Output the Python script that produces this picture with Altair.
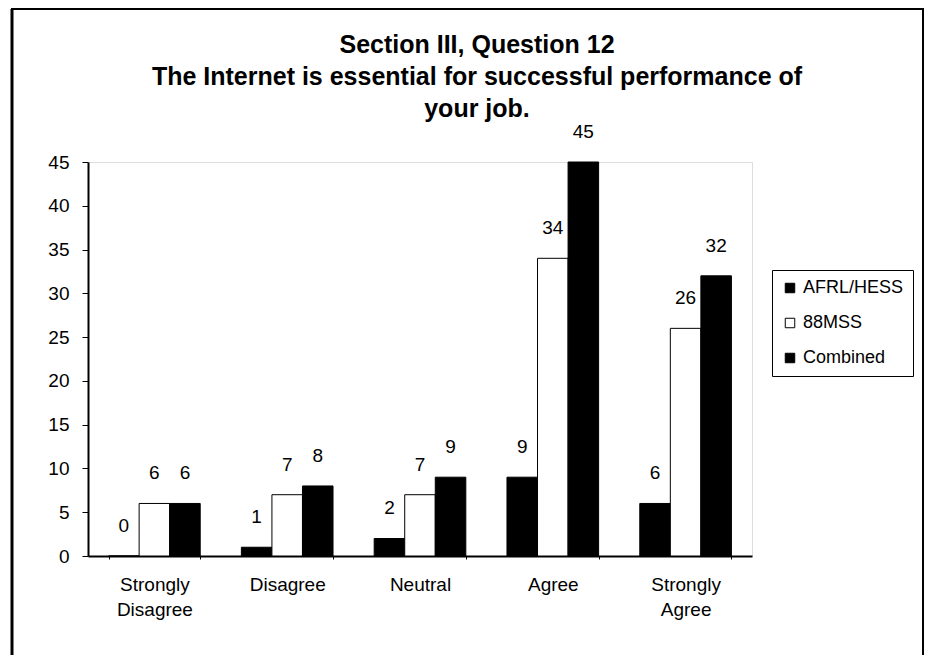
import altair as alt
import pandas as pd

categories = ["Strongly Disagree", "Disagree", "Neutral", "Agree", "Strongly Agree"]
series = ["AFRL/HESS", "88MSS", "Combined"]
afrl_hess = [0, 1, 2, 9, 6]
mss88 = [6, 7, 7, 34, 26]
combined = [6, 8, 9, 45, 32]
y_ticks = [0, 5, 10, 15, 20, 25, 30, 35, 40, 45]
title_lines = ["Section III, Question 12",
               "The Internet is essential for successful performance of",
               "your job."]

rows = []
for s, vals in zip(series, [afrl_hess, mss88, combined]):
    for c, v in zip(categories, vals):
        rows.append({"category": c, "series": s, "value": v})
df = pd.DataFrame(rows)

FONT = "Liberation Sans"
FS = 19

x_enc = alt.X("category:N", sort=categories,
              scale=alt.Scale(paddingInner=0.31, paddingOuter=0.155),
              axis=alt.Axis(title=None, labelAngle=0, labelFontSize=FS, labelFont=FONT,
                            labelColor="black", labelPadding=16, labelLineHeight=25,
                            labelExpr="split(datum.label, ' ')", tickBand="extent",
                            tickSize=3, tickColor="black", domainColor="black",
                            domainWidth=2, labelBaseline="top"))
xo_enc = alt.XOffset("series:N", sort=series, scale=alt.Scale(paddingInner=0, paddingOuter=0))
y_enc = alt.Y("value:Q", scale=alt.Scale(domain=[0, 45], nice=False),
              axis=alt.Axis(title=None, values=y_ticks, grid=False, labelFontSize=FS,
                            labelFont=FONT, labelColor="black", tickSize=6,
                            tickColor="black", domainColor="black", domainWidth=2,
                            labelPadding=13))

bars = alt.Chart(df).mark_bar(stroke="black", strokeWidth=1).encode(
    x=x_enc, xOffset=xo_enc, y=y_enc,
    fill=alt.Fill("series:N", sort=series,
                  scale=alt.Scale(domain=series, range=["black", "white", "black"]),
                  legend=alt.Legend(title=None, orient="none", legendX=684, legendY=108,
                                    labelFont=FONT, labelFontSize=18, labelColor="black",
                                    symbolType="square", symbolSize=90,
                                    symbolStrokeColor="black", symbolStrokeWidth=1,
                                    rowPadding=17, strokeColor="black",
                                    padding=9, labelOffset=4))
)

labels = alt.Chart(df).mark_text(dy=-30, baseline="middle", fontSize=FS, font=FONT,
                                 color="black").encode(
    x=alt.X("category:N", sort=categories), xOffset=alt.XOffset("series:N", sort=series),
    y="value:Q", text="value:Q")

title_df = pd.DataFrame({"t": [0]})
title = alt.Chart(title_df).mark_text(
    font=FONT, fontSize=25, fontWeight="bold", color="black", align="center",
    baseline="middle", lineHeight=32, clip=False
).encode(x=alt.value(389), y=alt.value(-117), text=alt.value(title_lines))

border_df = pd.DataFrame({"d": [0]})
frame = alt.Chart(border_df).mark_rect(fillOpacity=0, stroke="black", strokeWidth=2,
                                       clip=False).encode(
    x=alt.value(-76), x2=alt.value(835), y=alt.value(-153), y2=alt.value(510))
left = alt.Chart(border_df).mark_rule(color="black", strokeWidth=3, clip=False).encode(
    x=alt.value(-76), y=alt.value(-153), y2=alt.value(520))

chart = alt.layer(bars, labels, title, frame, left).properties(
    width=664, height=394,
    padding={"left": 80, "top": 154, "right": 172, "bottom": 99},
    autosize=alt.AutoSizeParams(type="none"),
).configure_view(stroke="black", strokeWidth=1.5
).configure_legend(strokeDash=[2, 2]).configure(background="white")

chart.save("out.html", embed_options={"renderer": "svg", "actions": False})
